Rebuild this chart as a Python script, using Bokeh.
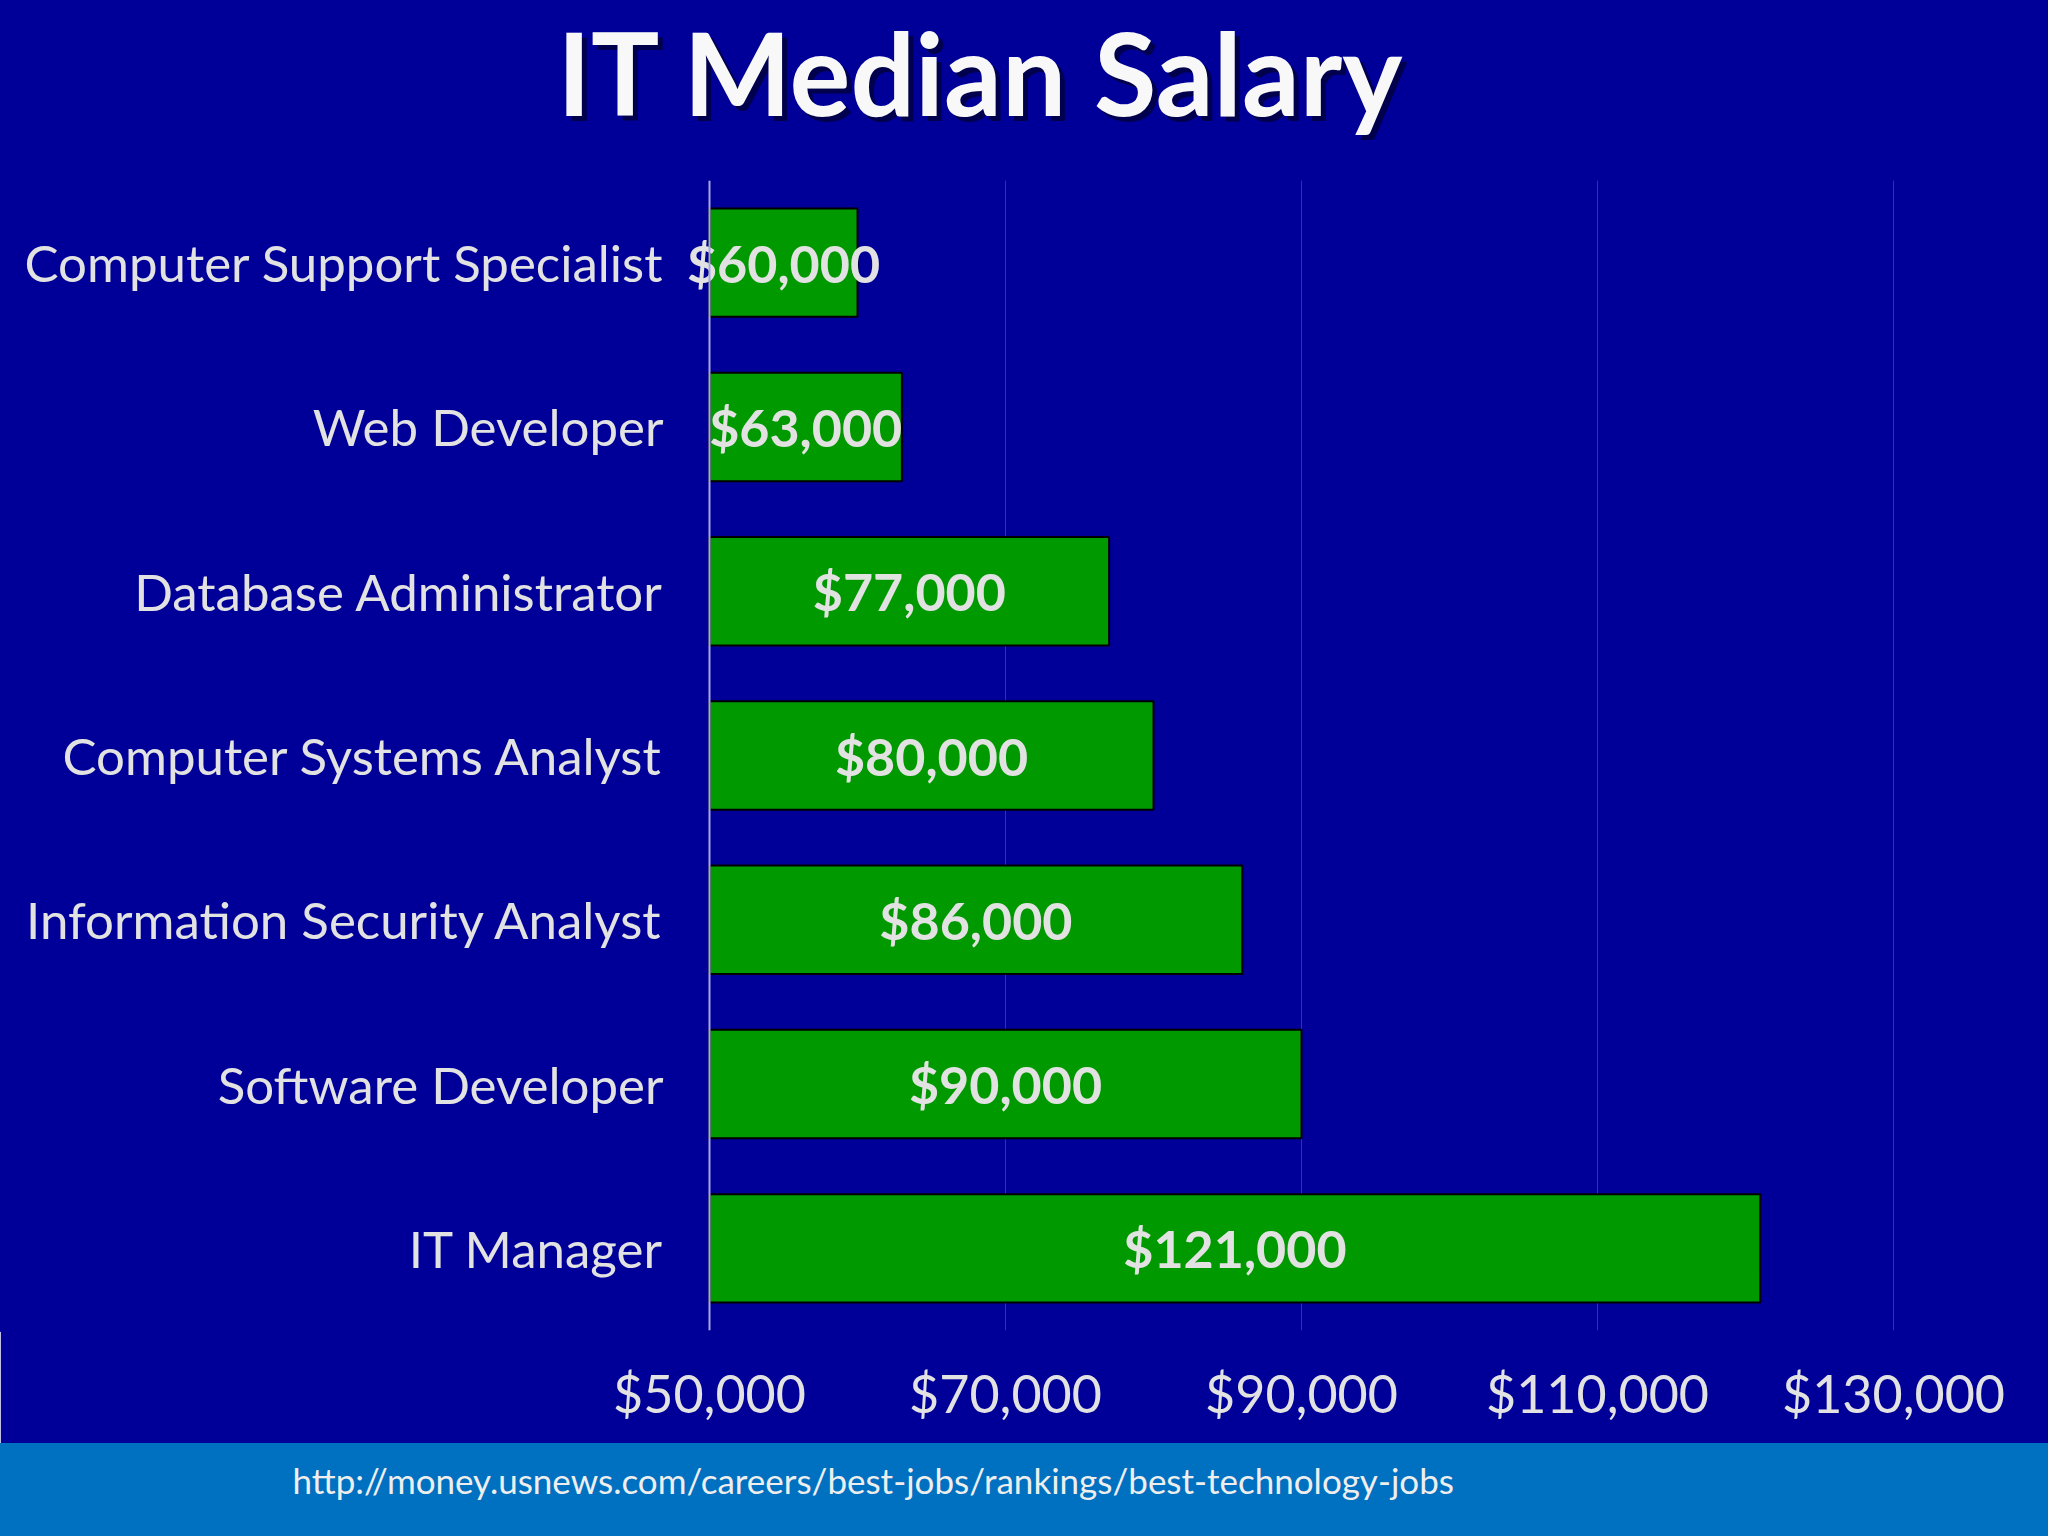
from bokeh.plotting import figure
from bokeh.layouts import column
from bokeh.models import Range1d, FactorRange, FixedTicker, NumeralTickFormatter, ColumnDataSource
from bokeh.core.properties import value
from bokeh.embed import file_html
from bokeh.resources import INLINE

# ---- data ----
jobs = [
    "Computer Support Specialist",
    "Web Developer",
    "Database Administrator",
    "Computer Systems Analyst",
    "Information Security Analyst",
    "Software Developer",
    "IT Manager",
]
salaries = [60000, 63000, 77000, 80000, 86000, 90000, 121000]
tick_values = [50000, 70000, 90000, 110000, 130000]
title_text = "IT Median Salary"
source_text = "http://money.usnews.com/careers/best-jobs/rankings/best-technology-jobs"

x_start = 50000
x_end = 135000

# ---- style / layout ----
BG = "#000099"
FOOT = "#0070C0"
GREEN = "#009900"
TXT = "#E2E2E2"
FONT = value("Lato")
W = 2048
AXIS_PX = 709          # pixel position of the value axis (x_start)
END_PX = 1967          # pixel position of x_end
px_per_unit = (END_PX - AXIS_PX) / (x_end - x_start)
# extend the range on both sides so that the frame covers the whole width
x_lo = x_start - AXIS_PX / px_per_unit
x_hi = x_start + (W - AXIS_PX) / px_per_unit


def strip(height, color):
    f = figure(width=W, height=height, x_range=Range1d(0, W), y_range=Range1d(0, height),
               x_axis_type=None, y_axis_type=None, output_backend="svg",
               toolbar_location=None, min_border=0, title=None)
    try:
        f.frame_align = False
    except Exception:
        pass
    f.grid.visible = False
    f.outline_line_color = color
    f.outline_line_width = 3
    f.background_fill_color = color
    f.border_fill_color = color
    return f


# ---- title strip ----
TH = 180
pt = strip(TH, BG)
pt.text(x=[981], y=[TH - 71], text=[title_text], text_align="center",
        text_baseline="middle", text_font=FONT, text_font_size="114px",
        text_font_style="bold", text_color="#000040", x_offset=5, y_offset=5,
        text_alpha=0.85)
pt.text(x=[981], y=[TH - 71], text=[title_text], text_align="center",
        text_baseline="middle", text_font=FONT, text_font_size="114px",
        text_font_style="bold", text_color="#F8F8F8")

# ---- main chart ----
src = ColumnDataSource(dict(
    job=jobs,
    salary=salaries,
    mid=[(x_start + s) / 2 for s in salaries],
    label=["${:,}".format(s) for s in salaries],
))

p = figure(width=W, height=1263, x_range=Range1d(x_lo, x_hi),
           y_range=FactorRange(factors=jobs[::-1]),
           output_backend="svg", toolbar_location=None, title=None,
           min_border_left=0, min_border_right=0,
           min_border_top=0, min_border_bottom=113)
try:
    p.frame_align = False
except Exception:
    pass
p.background_fill_color = BG
p.border_fill_color = BG
p.outline_line_color = BG
p.outline_line_width = 3

p.hbar(y="job", left=x_start, right="salary", height=0.66, source=src,
       fill_color=GREEN, line_color="#000000", line_width=2)
p.text(x="mid", y="job", text="label", source=src, text_align="center",
       text_baseline="middle", text_font=FONT, text_font_size="52px",
       text_font_style="bold", text_color=TXT)

p.xaxis.ticker = FixedTicker(ticks=tick_values)
p.xaxis.formatter = NumeralTickFormatter(format="$0,0")
p.xaxis.axis_line_color = None
p.xaxis.major_tick_line_color = None
p.xaxis.minor_tick_line_color = None
p.xaxis.major_label_text_font = "Lato"
p.xaxis.major_label_text_font_size = "52px"
p.xaxis.major_label_text_color = TXT
p.xaxis.major_label_standoff = 25

p.yaxis.fixed_location = x_start
p.yaxis.axis_line_color = "#A8A8E0"
p.yaxis.axis_line_width = 2
p.yaxis.major_tick_line_color = None
p.yaxis.minor_tick_line_color = None
p.yaxis.major_label_text_font = "Lato"
p.yaxis.major_label_text_font_size = "51px"
p.yaxis.major_label_text_color = TXT
p.yaxis.major_label_standoff = 40

p.xgrid.ticker = FixedTicker(ticks=tick_values)
p.xgrid.grid_line_color = "#3030B4"
p.xgrid.grid_line_width = 1
p.ygrid.grid_line_color = None

# ---- footer strip ----
FH = 93
pf = strip(FH, FOOT)
pf.text(x=[292], y=[FH - 36], text=[source_text], text_align="left",
        text_baseline="middle", text_font=FONT, text_font_size="35px",
        text_color="#EEEEEE")

layout = column(pt, p, pf, spacing=0)
open("out.html", "w").write(file_html(layout, INLINE))
